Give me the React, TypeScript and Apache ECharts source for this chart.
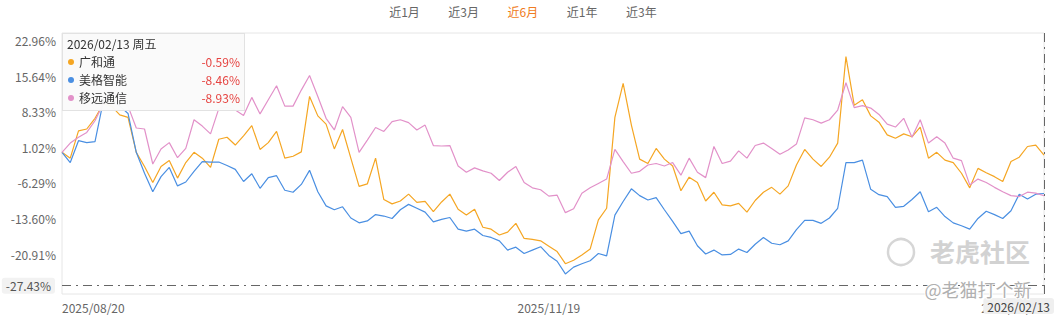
import React, { useEffect, useRef } from 'react';
import * as echarts from 'echarts';

const FONT = '"Microsoft YaHei", "Noto Sans CJK SC", "Noto Sans", sans-serif';

// Trading calendar (weekends and exchange holidays skipped)
const startDate = [2025, 8, 20];
const endDate = [2026, 2, 13];
const holidays = ['2025/10/01', '2025/10/02', '2025/10/03', '2025/10/06', '2025/10/07', '2025/10/08', '2026/01/01', '2026/01/02'];
const weekdayNames = ['周日', '周一', '周二', '周三', '周四', '周五', '周六'];

function fmt(d: Date) {
  const m = String(d.getUTCMonth() + 1).padStart(2, '0');
  const dd = String(d.getUTCDate()).padStart(2, '0');
  return `${d.getUTCFullYear()}/${m}/${dd}`;
}
function buildDates(): string[] {
  const out: string[] = [];
  const d = new Date(Date.UTC(startDate[0], startDate[1] - 1, startDate[2]));
  const e = new Date(Date.UTC(endDate[0], endDate[1] - 1, endDate[2]));
  while (d.getTime() <= e.getTime()) {
    const wd = d.getUTCDay();
    const s = fmt(d);
    if (wd !== 0 && wd !== 6 && !holidays.includes(s)) out.push(s);
    d.setUTCDate(d.getUTCDate() + 1);
  }
  return out;
}
const dates = buildDates();

const xLabelDates = ['2025/08/20', '2025/11/19', '2026/02/13'];
const yTickValues = [22.96, 15.64, 8.33, 1.02, -6.29, -13.6, -20.91];
const yMin = -29.13;
const yMax = 24.54;
const pointerValue = -27.43;
const rangeTabs = ['近1月', '近3月', '近6月', '近1年', '近3年'];
const activeTab = 2;

const seriesNames = ['广和通', '美格智能', '移远通信'];
const seriesColors = ['#F5A623', '#4A8FE2', '#E291C9'];

const ghtValues = [
  0, -1.2, 4.4, 4.8, 7.0, 10.0, 9.5, 7.7, 7.2, 0.0,
  -2.9, -6.2, -2.9, -1.7, -5.3, -2.1, 0.0, -1.2, -3.1, 2.7,
  3.1, 1.5, 3.4, 5.5, 0.6, 2.0, 4.3, -1.2, -0.8, 0.1,
  11.5, 7.5, 5.8, 0.7, 4.7, -1.2, -7.0, -6.5, -1.2, -9.7,
  -10.6, -10.0, -8.6, -10.3, -10.1, -12.2, -10.2, -8.6, -11.7, -12.9,
  -11.7, -15.4, -15.8, -17.0, -16.4, -14.6, -17.7, -17.9, -18.2, -19.3,
  -20.4, -22.9, -22.2, -21.1, -19.9, -13.9, -11.5, 7.2, 14.2, 5.6,
  -1.4, -2.3, 0.8, -1.4, -2.8, -7.9, -5.1, -6.2, -10.0, -8.2,
  -10.8, -11.0, -10.5, -12.3, -9.9, -8.2, -7.2, -8.6, -6.9, -2.6,
  0.6, -1.4, -2.9, -1.0, 1.9, 19.7, 9.7, 10.8, 7.5, 6.2,
  3.6, 2.9, 3.8, 3.2, 5.2, -1.2, 0.0, -1.6, -2.1, -4.3,
  -7.3, -3.3, -4.2, -5.0, -6.0, -1.9, -1.0, 1.2, 1.5, -0.59,
];

const mgznValues = [
  0, -2.1, 2.4, 2.0, 2.2, 10.5, 11.0, 9.5, 8.0, 0.0,
  -4.3, -8.1, -5.0, -3.1, -6.9, -6.1, -3.9, -1.9, -2.0, -2.0,
  -2.7, -3.5, -6.0, -4.4, -7.4, -5.2, -4.8, -7.8, -8.2, -6.6,
  -3.7, -8.1, -11.0, -11.8, -11.2, -13.5, -14.5, -14.1, -12.8, -13.1,
  -13.6, -11.8, -10.7, -11.5, -12.3, -14.3, -13.8, -13.4, -15.8, -16.2,
  -15.8, -17.1, -17.5, -18.2, -20.1, -19.5, -20.8, -20.1, -19.4, -21.2,
  -22.4, -25.0, -23.6, -22.9, -22.3, -20.8, -21.3, -12.9, -10.1, -7.5,
  -8.9, -9.8, -9.3, -11.8, -14.2, -16.7, -16.2, -19.2, -20.9, -20.1,
  -21.1, -21.0, -19.9, -20.6, -18.9, -17.5, -18.7, -19.0, -18.2, -15.9,
  -14.0, -14.0, -14.6, -13.5, -11.5, -2.1, -2.1, -1.6, -7.6, -8.7,
  -9.1, -11.3, -11.1, -9.7, -8.1, -12.2, -11.3, -13.2, -14.5, -15.1,
  -15.8, -13.6, -12.1, -12.8, -13.6, -12.0, -8.6, -9.6, -8.6, -8.46,
];

const yytxValues = [
  0, 1.9, 3.1, 4.1, 6.5, 10.0, 12.5, 11.0, 9.5, 5.0,
  4.8, -2.4, 0.7, 2.0, -1.1, 0.8, 6.7, 5.4, 3.8, 9.0,
  9.3, 8.7, 7.6, 11.3, 7.9, 10.8, 13.7, 9.5, 9.5, 12.8,
  15.8, 11.5, 7.0, 4.6, 9.4, 7.2, 0.0, 2.5, 5.1, 4.3,
  6.3, 6.7, 6.1, 4.6, 5.6, 1.4, 1.3, 1.4, -2.8, -4.1,
  -3.2, -3.8, -4.3, -5.8, -4.1, -2.9, -6.2, -7.3, -7.7, -9.0,
  -8.8, -12.4, -11.6, -8.4, -7.3, -6.4, -5.5, 0.6, -1.9, -4.3,
  -3.9, -2.6, -2.3, -2.8, -2.1, -4.7, -1.2, -4.1, -5.2, 1.2,
  -2.3, -1.8, 0.3, -1.2, 1.4, 1.9, 0.8, -0.4, 0.5, 1.7,
  7.1, 6.7, 6.0, 6.7, 8.7, 14.3, 9.2, 9.6, 9.1, 7.8,
  5.8, 5.2, 7.0, 3.1, 6.7, 1.9, 3.2, 1.9, -1.2, -1.7,
  -6.7, -5.5, -6.2, -7.2, -8.1, -8.9, -9.1, -8.2, -8.4, -8.93,
];

const seriesValues = [ghtValues, mgznValues, yytxValues];

function weekdayOf(s: string) {
  const [y, m, d] = s.split('/').map(Number);
  return weekdayNames[new Date(Date.UTC(y, m - 1, d)).getUTCDay()];
}

export default function App() {
  const ref = useRef<HTMLDivElement>(null);

  useEffect(() => {
    document.body.style.margin = '0';
    if (!ref.current) return;
    const chart = echarts.init(ref.current, undefined, { renderer: 'svg' });
    const dash = [9, 5, 2, 5];
    const option: any = {
      animation: false,
      textStyle: { fontFamily: FONT },
      grid: {
        left: 62, right: 10, top: 33, bottom: 21,
        show: true, borderColor: '#e6e6e6', borderWidth: 1, backgroundColor: 'transparent',
      },
      tooltip: {
        trigger: 'axis',
        triggerOn: 'none',
        alwaysShowContent: true,
        transitionDuration: 0,
        position: [62, 33],
        backgroundColor: 'rgba(250,250,250,0.97)',
        borderColor: '#e2e2e2',
        borderWidth: 1,
        padding: [1, 4, 3, 4],
        extraCssText: 'box-shadow:none;border-radius:0;width:173px;',
        textStyle: { fontFamily: FONT, fontSize: 12, color: '#333' },
        axisPointer: {
          type: 'cross',
          crossStyle: { color: '#666', width: 1, type: dash },
          lineStyle: { color: '#666', width: 1, type: dash },
          label: {
            backgroundColor: '#efefef',
            color: '#555',
            fontSize: 12,
            fontFamily: FONT,
            padding: [2, 4],
            shadowBlur: 0,
            borderWidth: 0,
          },
        },
        formatter: (params: any) => {
          const list = Array.isArray(params) ? params : [params];
          const d = dates[list[0].dataIndex];
          let html = `<div style="font-family:${FONT};font-size:12px;line-height:19px;color:#333">${d} ${weekdayOf(d)}</div>`;
          list.forEach((p: any) => {
            html += `<div style="display:flex;align-items:center;font-family:${FONT};font-size:12px;line-height:19px;">`
              + `<span style="display:inline-block;width:6px;height:6px;border-radius:50%;background:${p.color};margin:0 5px 0 1px"></span>`
              + `<span style="flex:1;color:#333">${p.seriesName}</span>`
              + `<span style="color:#e64340">${Number(p.value).toFixed(2)}%</span></div>`;
          });
          return html;
        },
      },
      xAxis: {
        type: 'category',
        data: dates,
        boundaryGap: false,
        axisLine: { show: false },
        axisTick: { show: false },
        splitLine: { show: false },
        axisLabel: {
          interval: (_i: number, v: string) => xLabelDates.includes(v),
          color: '#666',
          fontSize: 12,
          margin: 7,
          fontFamily: FONT,
          alignMinLabel: 'left',
          alignMaxLabel: 'right',
        },
        axisPointer: {
          label: { backgroundColor: '#efefef', color: '#444', margin: 4 },
        },
      },
      yAxis: {
        type: 'value',
        min: yMin,
        max: yMax,
        axisLine: { show: false },
        axisTick: { show: false },
        splitLine: { show: false },
        axisLabel: {
          customValues: yTickValues,
          formatter: (v: number) => `${v.toFixed(2)}%`,
          color: '#666',
          fontSize: 12,
          margin: 6,
          fontFamily: FONT,
        },
        axisPointer: {
          label: {
            formatter: (p: any) => `${Number(p.value).toFixed(2)}%`,
            backgroundColor: '#f2f2f2',
            color: '#555',
            margin: 7,
          },
        },
      },
      series: seriesNames.map((name, i) => ({
        name,
        type: 'line',
        data: seriesValues[i],
        symbol: 'none',
        showSymbol: false,
        lineStyle: { color: seriesColors[i], width: 1.2 },
        itemStyle: { color: seriesColors[i] },
        emphasis: { disabled: true },
      })),
      graphic: [
        ...rangeTabs.map((t, i) => ({
          type: 'text',
          x: 404.5 + i * 59.2,
          y: 11,
          style: {
            text: t,
            fill: i === activeTab ? '#f07c22' : '#666',
            fontSize: 12,
            fontFamily: FONT,
            align: 'center',
            verticalAlign: 'middle',
          },
        })),
        {
          type: 'circle',
          z: 100,
          shape: { cx: 901, cy: 252, r: 13 },
          style: { fill: 'none', stroke: '#d6d6d6', lineWidth: 2.5 },
        },
        {
          type: 'text',
          z: 100,
          x: 980,
          y: 251,
          style: {
            text: '老虎社区', fill: '#d2d2d2', fontSize: 25, fontWeight: 'bold',
            fontFamily: FONT, align: 'center', verticalAlign: 'middle',
          },
        },
        {
          type: 'text',
          z: 100,
          x: 978,
          y: 289,
          style: {
            text: '@老猫打个新', fill: '#b0b0b0', fontSize: 18,
            stroke: '#ffffff', lineWidth: 2,
            fontFamily: FONT, align: 'center', verticalAlign: 'middle',
          },
        },
      ],
    };
    chart.setOption(option);

    const showTip = () => {
      const x = chart.convertToPixel({ xAxisIndex: 0 }, dates.length - 1) as unknown as number;
      const y = chart.convertToPixel({ yAxisIndex: 0 }, pointerValue) as unknown as number;
      chart.dispatchAction({ type: 'showTip', x, y });
    };
    showTip();
    const t = setTimeout(showTip, 30);

    return () => {
      clearTimeout(t);
      chart.dispose();
    };
  }, []);

  return (
    <div
      ref={ref}
      style={{ position: 'relative', width: 1054, height: 315, background: '#fff' }}
    />
  );
}
